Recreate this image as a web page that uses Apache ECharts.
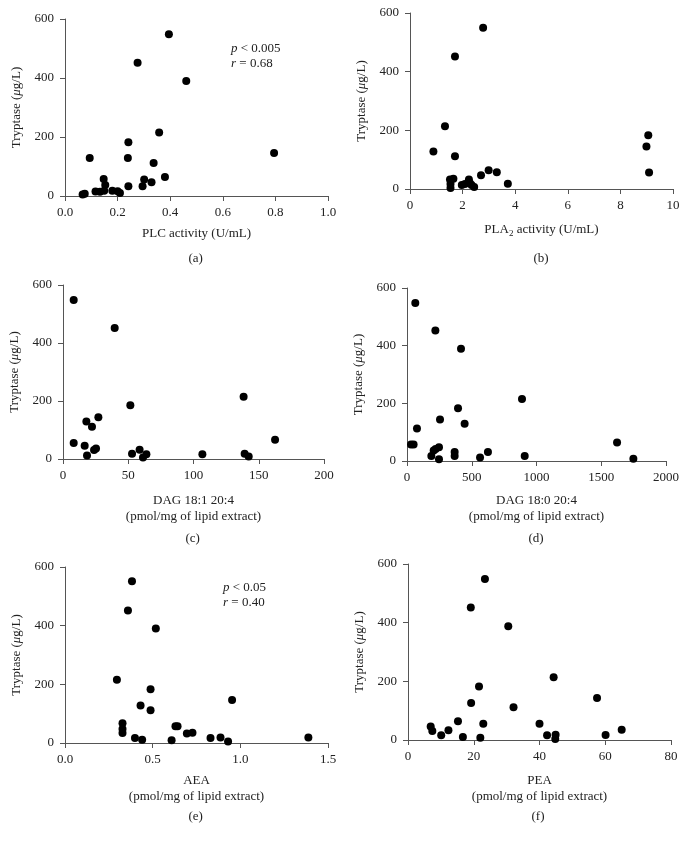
<!DOCTYPE html>
<html>
<head>
<meta charset="utf-8">
<script src="https://cdn.jsdelivr.net/npm/echarts@6/dist/echarts.min.js"></script>
<style>
  html, body { margin: 0; padding: 0; background: #fff; }
  #chart { width: 686px; height: 848px; }
</style>
</head>
<body>
<div id="chart"></div>
<script>
// tryptase vs. each measure
const plcX = [0.067, 0.075, 0.094, 0.116, 0.133, 0.147, 0.149, 0.153, 0.180, 0.200, 0.209, 0.239, 0.241, 0.241, 0.276, 0.295, 0.301, 0.329, 0.337, 0.358, 0.380, 0.395, 0.461, 0.795]
const plcY = [5, 8, 129, 15, 14, 58, 18, 37, 18, 16, 10, 129, 182, 33, 452, 33, 56, 47, 112, 215, 64, 548, 390, 146]

const pla2X = [0.89, 1.33, 1.71, 1.71, 1.52, 1.54, 1.54, 1.65, 1.97, 2.09, 2.24, 2.28, 2.34, 2.44, 2.70, 2.78, 2.99, 3.30, 3.72, 8.99, 9.06, 9.09]
const pla2Y = [128, 214, 452, 112, 32, 17, 3, 35, 14, 17, 32, 20, 14, 7, 47, 550, 64, 57, 18, 145, 183, 56]

const dag181X = [8.2, 8.2, 16.6, 17.9, 18.4, 22.2, 23.8, 25.3, 27.1, 39.6, 51.6, 52.9, 58.7, 61.3, 63.9, 106.8, 138.4, 139.2, 142.3, 162.5]
const dag181Y = [548, 55, 46, 129, 12, 111, 31, 36, 144, 452, 185, 18, 32, 5, 16, 16, 215, 18, 9, 66]

const dag180X = [31, 51, 64, 77, 188, 206, 219, 221, 247, 247, 255, 368, 368, 394, 417, 445, 564, 625, 888, 909, 1622, 1748]
const dag180Y = [57, 57, 548, 113, 17, 36, 453, 42, 6, 48, 144, 31, 17, 183, 389, 129, 12, 31, 215, 17, 64, 8]

const aeaX = [0.296, 0.328, 0.328, 0.328, 0.359, 0.382, 0.399, 0.431, 0.440, 0.488, 0.488, 0.518, 0.608, 0.630, 0.642, 0.695, 0.727, 0.830, 0.887, 0.930, 0.953, 1.388]
const aeaY = [216, 67, 48, 34, 452, 551, 17, 128, 11, 183, 112, 390, 9, 57, 57, 32, 35, 17, 19, 5, 147, 19]

const peaX = [6.9, 7.4, 10.1, 12.3, 15.2, 16.7, 19.1, 19.2, 21.6, 22.0, 22.9, 23.4, 30.5, 32.1, 40.0, 42.3, 44.3, 44.9, 44.8, 57.5, 60.1, 65.0]
const peaY = [46, 31, 16, 33, 64, 10, 452, 126, 182, 8, 55, 549, 388, 112, 55, 16, 214, 18, 3, 143, 17, 35]

const xNames = [
  'PLC activity (U/mL)',
  'PLA{sub|2} activity (U/mL)',
  'DAG 18:1 20:4\n(pmol/mg of lipid extract)',
  'DAG 18:0 20:4\n(pmol/mg of lipid extract)',
  'AEA\n(pmol/mg of lipid extract)',
  'PEA\n(pmol/mg of lipid extract)'
]
const panelLabels = ['(a)', '(b)', '(c)', '(d)', '(e)', '(f)']
const yTicks = [0, 200, 400, 600]

const font = '"Liberation Serif", "DejaVu Serif", serif'
const axisColor = '#555'
const textColor = '#222'

const panels = [
  { x: plcX, y: plcY, max: 1, interval: 0.2, digits: 1, grid: { left: 65, top: 19, width: 263, height: 177 }, nameGap: 30 },
  { x: pla2X, y: pla2Y, max: 10, interval: 2, digits: 0, grid: { left: 410, top: 13, width: 263, height: 176 }, nameGap: 33 },
  { x: dag181X, y: dag181Y, max: 200, interval: 50, digits: 0, grid: { left: 63, top: 285, width: 261, height: 174 }, nameGap: 34 },
  { x: dag180X, y: dag180Y, max: 2000, interval: 500, digits: 0, grid: { left: 407, top: 288, width: 259, height: 173 }, nameGap: 32 },
  { x: aeaX, y: aeaY, max: 1.5, interval: 0.5, digits: 1, grid: { left: 65, top: 567, width: 263, height: 176 }, nameGap: 30 },
  { x: peaX, y: peaY, max: 80, interval: 20, digits: 0, grid: { left: 408, top: 564, width: 263, height: 176 }, nameGap: 33 }
]

const labelY = [260, 260, 540, 540, 818, 818]

const grid = []
const xAxis = []
const yAxis = []
const series = []
const graphic = []

panels.forEach((p, i) => {
  grid.push(p.grid)
  xAxis.push({
    gridIndex: i,
    type: 'value',
    min: 0,
    max: p.max,
    interval: p.interval,
    name: xNames[i],
    nameLocation: 'middle',
    nameGap: p.nameGap,
    nameTextStyle: {
      color: textColor, fontFamily: font, fontSize: 13, lineHeight: 16,
      rich: { sub: { fontFamily: font, fontSize: 9, verticalAlign: 'bottom', padding: [6, 0, 0, 0], color: textColor } }
    },
    axisLine: { lineStyle: { color: axisColor, width: 1 } },
    axisTick: { length: 5, lineStyle: { color: axisColor } },
    splitLine: { show: false },
    axisLabel: {
      color: textColor, fontFamily: font, fontSize: 13, margin: 10,
      formatter: v => v.toFixed(p.digits)
    }
  })
  yAxis.push({
    gridIndex: i,
    type: 'value',
    min: yTicks[0],
    max: yTicks[yTicks.length - 1],
    interval: yTicks[1] - yTicks[0],
    name: 'Tryptase ({i|μ}g/L)',
    nameLocation: 'middle',
    nameGap: 42,
    nameTextStyle: {
      color: textColor, fontFamily: font, fontSize: 13,
      rich: { i: { fontFamily: font, fontStyle: 'italic', fontSize: 13, color: textColor } }
    },
    axisLine: { show: true, lineStyle: { color: axisColor, width: 1 } },
    axisTick: { show: true, length: 5, lineStyle: { color: axisColor } },
    splitLine: { show: false },
    axisLabel: { color: textColor, fontFamily: font, fontSize: 13, margin: 11 }
  })
  series.push({
    type: 'scatter',
    xAxisIndex: i,
    yAxisIndex: i,
    symbolSize: 8,
    itemStyle: { color: '#000', opacity: 1 },
    data: p.x.map((v, k) => [v, p.y[k]])
  })
  graphic.push({
    type: 'text',
    left: p.grid.left + p.grid.width / 2 - 8,
    top: labelY[i] - 8,
    style: { text: panelLabels[i], font: '13px ' + font, fill: textColor }
  })
})

// correlation notes for (a) and (e)
const notes = [
  { x: 231, y: 41, text: '{i|p} < 0.005\n{i|r} = 0.68' },
  { x: 223, y: 580, text: '{i|p} < 0.05\n{i|r} = 0.40' }
]
notes.forEach(n => {
  graphic.push({
    type: 'text',
    left: n.x,
    top: n.y,
    style: {
      text: n.text,
      font: '13px ' + font,
      fill: textColor,
      lineHeight: 15,
      rich: { i: { fontFamily: font, fontStyle: 'italic', fontSize: 13, fill: textColor, lineHeight: 15 } }
    }
  })
})

const chart = echarts.init(document.getElementById('chart'))
chart.setOption({
  animation: false,
  backgroundColor: '#fff',
  grid,
  xAxis,
  yAxis,
  series,
  graphic
})
</script>
</body>
</html>
